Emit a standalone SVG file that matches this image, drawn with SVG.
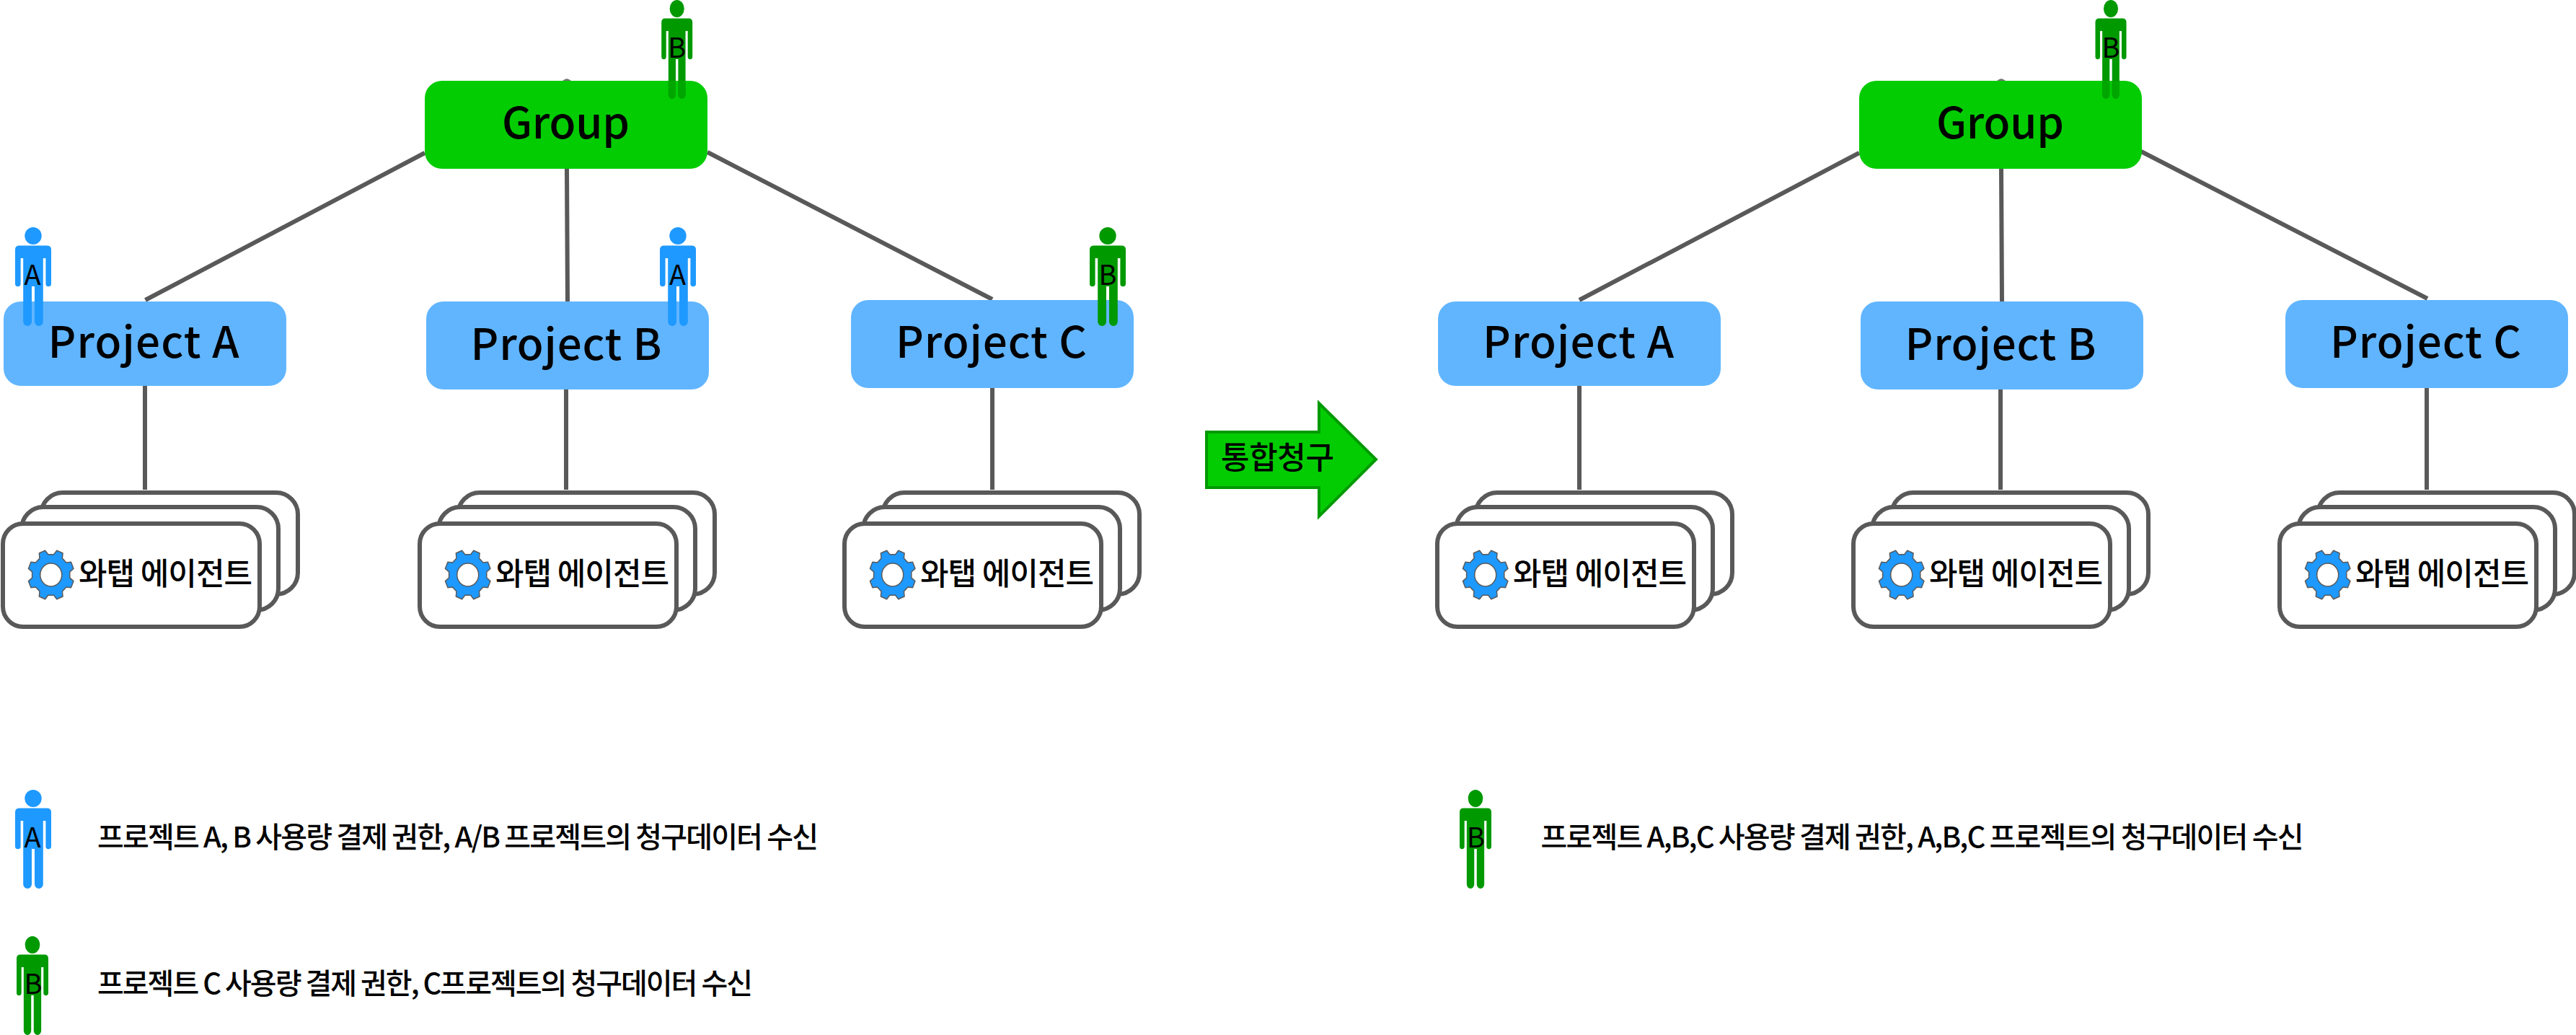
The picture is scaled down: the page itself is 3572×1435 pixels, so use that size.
<svg xmlns="http://www.w3.org/2000/svg" xmlns:xlink="http://www.w3.org/1999/xlink" width="3572" height="1435" viewBox="0 0 3572 1435">
<style>
text{font-family:"Noto Sans CJK KR","Noto Sans",sans-serif;fill:#000}
.con{stroke:#595959;stroke-width:6;fill:none}
.grp{fill:#03CC03}
.prj{fill:#61B5FF}
.card{fill:#fff;stroke:#595959;stroke-width:6}
.t58{font-size:60px;font-weight:500;text-anchor:middle}
.t41{font-size:43px;font-weight:500}
.t38{font-size:40px;font-weight:500}
.t34{font-size:38px;text-anchor:middle}
.pb{fill:#1E99FF}
.pg{fill:#009900}
.gear{fill:#1E99FF;stroke:#595959;stroke-width:1.5;stroke-linejoin:round}
.hole{fill:#fff;stroke:#595959;stroke-width:1.5}
</style>
<defs>
<g id="man">
<ellipse cx="0" cy="12" rx="11.7" ry="12"/>
<path d="M-25,31Q-25,25.5-19,25.5H19Q25,25.5 25,31V78.5A3.8,3.8 0 0 1 17.4,78.5V43H13.8V131A5.9,5.9 0 0 1 2,131V82H-2V131A5.9,5.9 0 0 1-13.8,131V43H-17.4V78.5A3.8,3.8 0 0 1-25,78.5Z"/>
</g>
<g id="stack">
<rect class="card" x="57" y="683" width="356" height="141" rx="30"/>
<rect class="card" x="30" y="703" width="356" height="143" rx="30"/>
<rect class="card" x="4" y="726" width="356" height="143" rx="28"/>
<path class="gear" transform="translate(70.7,797) scale(.978,1.056)" d="M26.7,4L31.95,8.26 28.43,16.75 21.7,16.06 16.06,21.7 16.75,28.43 8.26,31.95 4,26.7-4,26.7-8.26,31.95-16.75,28.43-16.06,21.7-21.7,16.06-28.43,16.75-31.95,8.26-26.7,4-26.7,-4-31.95,-8.26-28.43,-16.75-21.7,-16.06-16.06,-21.7-16.75,-28.43-8.26,-31.95-4,-26.7 4,-26.7 8.26,-31.95 16.75,-28.43 16.06,-21.7 21.7,-16.06 28.43,-16.75 31.95,-8.26 26.7,-4Z"/>
<ellipse class="hole" cx="70.7" cy="797" rx="15" ry="16"/>
</g>
</defs>

<g id="connectors">
<path class="con" d="M589,212L201.5,416M786,234L787,418M981,211L1376,415M201,535V679M785,540V679M1376,538V679"/>
<path class="con" d="M2578,212L2190,416M2775,234L2776,418M2969,210L3366,414M2190,535V679M2774,540V679M3365,538V679"/>
<path d="M780,112L783,110 786,109 789,110 792,112Z" fill="#777"/>
<path d="M2769,112L2772,110 2775,109 2778,110 2781,112Z" fill="#777"/>
</g>

<g id="left-group"><rect class="grp" x="589" y="112" width="392" height="122" rx="24"/><text class="t58" x="784.5" y="192" textLength="177">Group</text></g>
<g id="left-project-a"><rect class="prj" x="5" y="418" width="392" height="117" rx="24"/><text class="t58" x="199" y="496" textLength="265">Project A</text></g>
<g id="left-project-b"><rect class="prj" x="591" y="418" width="392" height="122" rx="24"/><text class="t58" x="785" y="499" textLength="265">Project B</text></g>
<g id="left-project-c"><rect class="prj" x="1180" y="416" width="392" height="122" rx="24"/><text class="t58" x="1374.5" y="496" textLength="265">Project C</text></g>

<g id="left-agent-a"><use xlink:href="#stack" href="#stack"/><text class="t41" x="109" y="811" textLength="241">와탭 에이전트</text></g>
<g id="left-agent-b"><use xlink:href="#stack" href="#stack" x="578"/><text class="t41" x="687" y="811" textLength="241">와탭 에이전트</text></g>
<g id="left-agent-c"><use xlink:href="#stack" href="#stack" x="1167"/><text class="t41" x="1276" y="811" textLength="241">와탭 에이전트</text></g>

<g id="left-user-group"><use class="pg" xlink:href="#man" href="#man" transform="translate(938.7,0) scale(.86,1)"/><path d="M926.8,112H937V131A5.1,5.9 0 0 1 926.8,131ZM940.4,112H950.6V131A5.1,5.9 0 0 1 940.4,131Z" fill="#00A600"/><text class="t34" x="938.7" y="80">B</text></g>
<g id="left-user-a"><use class="pb" xlink:href="#man" href="#man" transform="translate(46,315)"/><text class="t34" x="45" y="395">A</text></g>
<g id="left-user-b"><use class="pb" xlink:href="#man" href="#man" transform="translate(940,315)"/><text class="t34" x="939.5" y="395">A</text></g>
<g id="left-user-c"><use class="pg" xlink:href="#man" href="#man" transform="translate(1536,315)"/><text class="t34" x="1536" y="395">B</text></g>

<g id="merge-arrow"><path d="M1673,599H1829V559L1908,637 1829,716V676H1673Z" fill="#03CC03" stroke="#009900" stroke-width="4"/><text class="t41" x="1693" y="650" textLength="157">통합청구</text></g>

<g id="right-group"><rect class="grp" x="2578" y="112" width="392" height="122" rx="24"/><text class="t58" x="2773.5" y="192" textLength="177">Group</text></g>
<g id="right-project-a"><rect class="prj" x="1994" y="418" width="392" height="117" rx="24"/><text class="t58" x="2188.5" y="496" textLength="265">Project A</text></g>
<g id="right-project-b"><rect class="prj" x="2580" y="418" width="392" height="122" rx="24"/><text class="t58" x="2774" y="499" textLength="265">Project B</text></g>
<g id="right-project-c"><rect class="prj" x="3169" y="416" width="392" height="122" rx="24"/><text class="t58" x="3363.5" y="496" textLength="265">Project C</text></g>

<g id="right-agent-a"><use xlink:href="#stack" href="#stack" x="1989"/><text class="t41" x="2098" y="811" textLength="241">와탭 에이전트</text></g>
<g id="right-agent-b"><use xlink:href="#stack" href="#stack" x="2566"/><text class="t41" x="2675" y="811" textLength="241">와탭 에이전트</text></g>
<g id="right-agent-c"><use xlink:href="#stack" href="#stack" x="3157"/><text class="t41" x="3266" y="811" textLength="241">와탭 에이전트</text></g>

<g id="right-user-group"><use class="pg" xlink:href="#man" href="#man" transform="translate(2927,0) scale(.86,1)"/><path d="M2915.1,112H2925.3V131A5.1,5.9 0 0 1 2915.1,131ZM2928.7,112H2938.9V131A5.1,5.9 0 0 1 2928.7,131Z" fill="#00A600"/><text class="t34" x="2927" y="80">B</text></g>

<g id="legend-a"><use class="pb" xlink:href="#man" href="#man" transform="translate(46,1095)"/><text class="t34" x="45" y="1175">A</text><text class="t38" x="135" y="1175" textLength="1000">프로젝트 A, B 사용량 결제 권한, A/B 프로젝트의 청구데이터 수신</text></g>
<g id="legend-b"><use class="pg" xlink:href="#man" href="#man" transform="translate(45,1298) scale(.88,1)"/><text class="t34" x="46" y="1378">B</text><text class="t38" x="135" y="1378" textLength="909">프로젝트 C 사용량 결제 권한, C프로젝트의 청구데이터 수신</text></g>
<g id="legend-merged"><use class="pg" xlink:href="#man" href="#man" transform="translate(2046,1095) scale(.88,1)"/><text class="t34" x="2046.5" y="1175">B</text><text class="t38" x="2136.5" y="1175" textLength="1058">프로젝트 A,B,C 사용량 결제 권한, A,B,C 프로젝트의 청구데이터 수신</text></g>
</svg>
